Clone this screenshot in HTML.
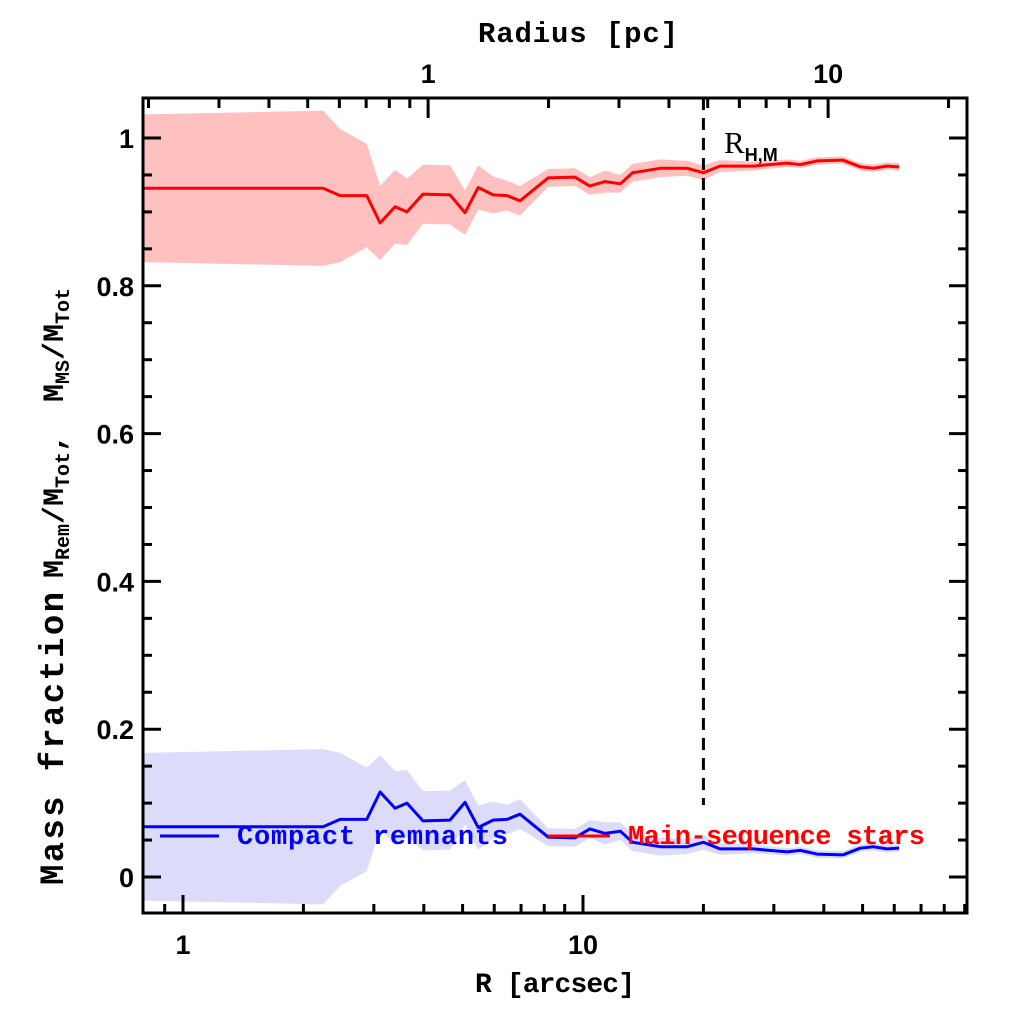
<!DOCTYPE html>
<html><head><meta charset="utf-8"><style>
html,body{margin:0;padding:0;background:#fff;}
svg{display:block;font-family:"Liberation Sans",sans-serif;}
</style></head><body>
<svg id="chart" width="1024" height="1024" viewBox="0 0 1024 1024" xmlns="http://www.w3.org/2000/svg">
<g id="bands"></g>
<g id="lines"></g>
<g id="axes"></g>
<g id="labels" font-weight="bold" fill="#000">
<text x="475" y="992" font-size="28" font-family="Liberation Mono, monospace" textLength="160">R [arcsec]</text>
<text x="478" y="42" font-size="29" font-family="Liberation Mono, monospace" textLength="200">Radius [pc]</text>
<g font-family="Liberation Mono, monospace">
<text transform="translate(63,885) rotate(-90)" font-size="34" textLength="293">Mass fraction</text>
<text transform="translate(63,578) rotate(-90)" font-size="30">M<tspan font-size="20" dy="6">Rem</tspan><tspan dy="-6">/M</tspan><tspan font-size="20" dy="6">Tot</tspan><tspan dy="-6">,</tspan></text>
<text transform="translate(63,402) rotate(-90)" font-size="30">M<tspan font-size="20" dy="6">MS</tspan><tspan dy="-6">/M</tspan><tspan font-size="20" dy="6">Tot</tspan></text>
</g>
<text x="724" y="153" font-size="31" font-family="Liberation Serif, serif" font-weight="normal">R<tspan font-size="18" dy="8" font-weight="bold" font-family="Liberation Sans, sans-serif">H,M</tspan></text>
<line x1="160" y1="836" x2="219" y2="836" stroke="#0000ff" stroke-width="3"/>
<text x="237" y="844" font-size="27" fill="#0000ff" font-family="Liberation Mono, monospace" textLength="271">Compact remnants</text>
<line x1="548" y1="836" x2="610" y2="836" stroke="#ff0000" stroke-width="3"/>
<text x="628" y="844" font-size="27" fill="#ff0000" font-family="Liberation Mono, monospace" textLength="297">Main-sequence stars</text>
</g>
</svg>
<script>
const radii = [0.80,2.24,2.47,2.88,3.11,3.39,3.63,3.98,4.65,5.07,5.47,5.96,6.46,6.96,8.18,9.55,10.4,11.35,12.4,13.3,15.6,18.2,20.0,22.0,26.6,32.4,34.9,38.5,44.7,49.3,53.1,57.5,61.7];
const remnantFrac = [0.068,0.068,0.078,0.078,0.115,0.093,0.100,0.076,0.077,0.101,0.067,0.077,0.078,0.085,0.054,0.053,0.065,0.059,0.062,0.047,0.041,0.041,0.047,0.038,0.038,0.034,0.036,0.031,0.030,0.039,0.041,0.038,0.039];
const mainSeqFrac = [0.932,0.932,0.922,0.922,0.885,0.907,0.900,0.924,0.923,0.899,0.933,0.923,0.922,0.915,0.946,0.947,0.935,0.941,0.938,0.953,0.959,0.959,0.953,0.962,0.962,0.966,0.964,0.969,0.970,0.961,0.959,0.962,0.961];
const fracErr = [0.100,0.105,0.090,0.070,0.050,0.050,0.045,0.040,0.040,0.030,0.030,0.025,0.020,0.020,0.012,0.012,0.012,0.015,0.012,0.012,0.012,0.010,0.010,0.008,0.006,0.005,0.005,0.005,0.005,0.005,0.005,0.005,0.005];
const yTicks = [0,0.2,0.4,0.6,0.8,1];
const yTickLabels = ["0","0.2","0.4","0.6","0.8","1"];
const xMajor = [1,10];
const pcMajor = [1,10];
const halfMassRadius = 20;

const L=143,R=967,T=98,B=913;
const NS="http://www.w3.org/2000/svg";
function xs(r){return 183+400*Math.log10(r);}
function ys(v){return 877-739*v;}
function xpc(p){return xs(p*4.1);}
function el(tag,attrs,parent){const e=document.createElementNS(NS,tag);for(const k in attrs)e.setAttribute(k,attrs[k]);parent.appendChild(e);return e;}
const bands=document.getElementById('bands'),lines=document.getElementById('lines'),axes=document.getElementById('axes'),labels=document.getElementById('labels');

function band(vals,color,name){
  let up=radii.map((r,i)=>xs(r)+','+ys(vals[i]+fracErr[i]));
  let dn=radii.map((r,i)=>xs(r)+','+ys(vals[i]-fracErr[i])).reverse();
  const p=el('polygon',{points:up.concat(dn).join(' '),fill:color},bands);
  
  
}
band(mainSeqFrac,'#ffc0c0','main-sequence-band');
band(remnantFrac,'#dcdcfa','remnants-band');
function line(vals,color,name){
  const p=el('polyline',{points:radii.map((r,i)=>xs(r)+','+ys(vals[i])).join(' '),fill:'none',stroke:color,'stroke-width':3,'stroke-linejoin':'round'},lines);
  
  
}
line(mainSeqFrac,'#ff0000','main-sequence-line');
line(remnantFrac,'#0000ff','remnants-line');

const hm=el('line',{x1:xs(halfMassRadius),x2:xs(halfMassRadius),y1:T,y2:805,stroke:'#000','stroke-width':3,'stroke-dasharray':'12,8'},axes);



const frame=el('rect',{x:L,y:T,width:R-L,height:B-T,fill:'none',stroke:'#000','stroke-width':3},axes);



function tick(x1,y1,x2,y2,name){const t=el('line',{x1,y1,x2,y2,stroke:'#000','stroke-width':3},axes);}
for(let v=-0.05;v<=1.05;v+=0.05){
  const vv=Math.round(v*100)/100; const y=ys(vv); if(y<T||y>B)continue;
  const major=Math.abs(vv*5-Math.round(vv*5))<1e-6;
  const len=major?18:9;
  tick(L,y,L+len,y,'y-tick');
  tick(R,y,R-len,y,'y-tick-right');
}
yTicks.forEach((v,i)=>{const t=el('text',{x:134,y:ys(v)+10,'font-size':27,'text-anchor':'end'},labels);t.textContent=yTickLabels[i];});
for(let d=0.1;d<=100;d*=10){for(let m=1;m<10;m++){const r=m*d;const x=xs(r);if(x<L+2||x>R-2)continue;const len=m===1?18:9;tick(x,B,x,B-len,'x-tick');}}
xMajor.forEach(r=>{const t=el('text',{x:xs(r),y:954,'font-size':27,'text-anchor':'middle'},labels);t.textContent=String(r);});
for(let d=0.1;d<=100;d*=10){for(let m=1;m<10;m++){const p=m*d;const x=xpc(p);if(x<L+2||x>R-2)continue;const len=m===1?20:10;tick(x,T,x,T+len,'top-tick');}}
pcMajor.forEach(p=>{const t=el('text',{x:xpc(p),y:83,'font-size':27,'text-anchor':'middle'},labels);t.textContent=String(p);});
</script>
</body></html>
